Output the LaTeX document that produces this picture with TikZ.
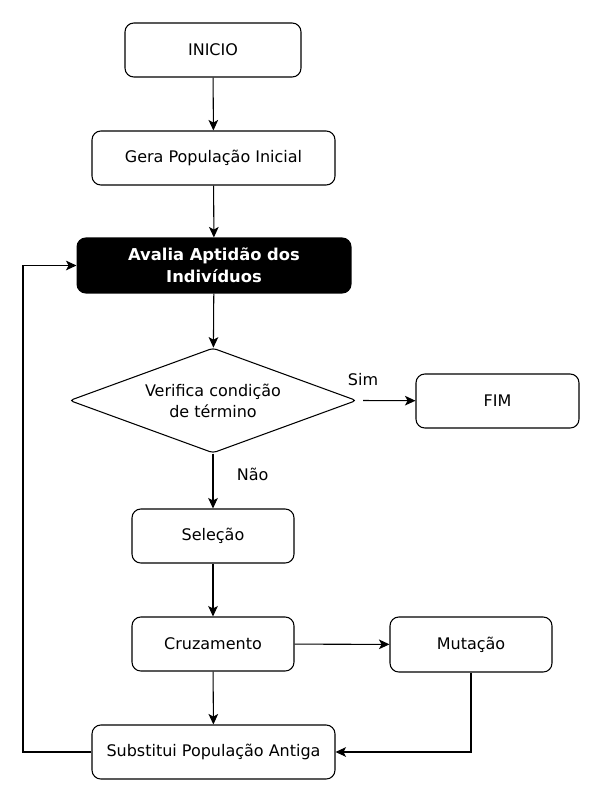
\documentclass[tikz,border=0pt]{standalone}
\usepackage{fontspec}
\setmainfont{DejaVu Sans}
\usetikzlibrary{positioning, shapes, arrows, arrows.meta}

\tikzset{
    passo/.style={rectangle, draw, rounded corners=5pt, line width=0.6pt, align=center, inner sep=0pt, font=\fontsize{9.1}{11}\selectfont},
    escuro/.style={passo, fill=black, text=white, font=\fontsize{9.3}{12.5}\selectfont\bfseries},
    decisao/.style={diamond, draw, rounded corners=2pt, line width=0.6pt, align=center, inner sep=0pt, aspect=2.7, font=\fontsize{9.1}{12}\selectfont},
    seta/.style={-{Stealth[length=6pt, width=5.5pt, inset=1.5pt]}, line width=0.6pt}
}

\begin{document}
\begin{tikzpicture}[x=0.02cm, y=-0.02cm]
                    \useasboundingbox (0, 0) rectangle (601, 801);

                    \node[passo, minimum width=3.52cm, minimum height=1.08cm] (ini) at (213, 50) {INICIO};
                    \node[passo, minimum width=4.86cm, minimum height=1.08cm] (ger) at (213.5, 158) {Gera População Inicial};
                    \node[escuro, minimum width=5.48cm, minimum height=1.1cm] (ava) at (214, 265.5) {Avalia Aptidão dos\\Indivíduos};
                    \node[decisao, minimum width=5.74cm, minimum height=2.1cm] (ver) at (213, 400.5) {Verifica condição\\de término};
                    \node[passo, minimum width=3.26cm, minimum height=1.08cm] (fim) at (497.5, 401) {FIM};
                    \node[passo, minimum width=3.24cm, minimum height=1.08cm] (sel) at (213, 536) {Seleção};
                    \node[passo, minimum width=3.24cm, minimum height=1.08cm] (cru) at (213, 644) {Cruzamento};
                    \node[passo, minimum width=3.24cm, minimum height=1.1cm] (mut) at (471, 644.5) {Mutação};
                    \node[passo, minimum width=4.86cm, minimum height=1.08cm] (sub) at (213.5, 752) {Substitui População Antiga};

                    \coordinate (esq) at (23, 752);
                    \coordinate (dir) at (471, 752);

                    \draw[seta] (ini) -- (ger);
                    \draw[seta] (ger) -- (ava);
                    \draw[seta] (ava) -- (ver);
                    \draw[seta] ([xshift=0.12cm]ver.east) -- node[pos=0, above=5pt, font=\fontsize{9.1}{11}\selectfont] {Sim} (fim);
                    \draw[seta] (ver) -- node[right=10pt, pos=0.38, font=\fontsize{9.1}{11}\selectfont] {Não} (sel);
                    \draw[seta] (sel) -- (cru);
                    \draw[seta] (cru) -- (mut);
                    \draw[seta] (cru) -- (sub);
                    \draw[seta] (mut) -- (dir) -- (sub);
                    \draw[seta] (sub) -- (esq) |- (ava);
                \end{tikzpicture}
\end{document}
